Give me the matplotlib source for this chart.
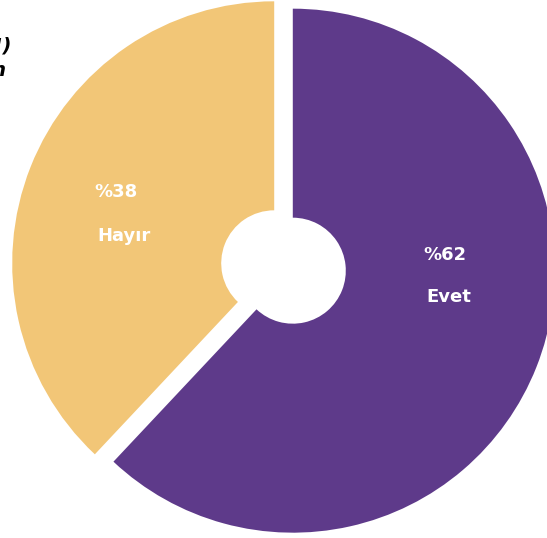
import matplotlib
matplotlib.use("Agg")
import matplotlib.pyplot as plt

categories = ["Evet", "Hayır"]
values = [62, 38]
pct_labels = ["%62", "%38"]
colors = ["#5E3A8A", "#F2C677"]

W, H = 547, 538
fig = plt.figure(figsize=(W / 100, H / 100), dpi=100)
ax = fig.add_axes([0, 0, 1, 1])

cx, cy = 283.5, H - 267
R = 262
r_in = 53
ax.pie(values, colors=colors, startangle=90, counterclock=False,
       center=(cx, cy), radius=R, explode=[10, 10],
       wedgeprops=dict(linewidth=0, width=R - r_in), frame=True)
ax.set_xlim(0, W)
ax.set_ylim(0, H)
ax.set_aspect("equal")
ax.axis("off")

fs = 13
kw = dict(color="white", fontsize=fs, fontweight="bold", ha="center", va="center",
          family="DejaVu Sans")
# Evet labels
ax.text(445, H - 255, pct_labels[0], **kw)
ax.text(449, H - 297, categories[0], **kw)
# Hayır labels
ax.text(116, H - 192, pct_labels[1], **kw)
ax.text(124, H - 236, categories[1], **kw)

# cropped title fragments (cut off at the left edge as in the reference)
ax.text(12, H - 46, "(Evet/Hayır!)", color="black", fontsize=14, fontweight="bold",
        fontstyle="italic", ha="right", va="center")
ax.text(6, H - 71, "oran", color="black", fontsize=14, fontweight="bold",
        fontstyle="italic", ha="right", va="center")

fig.savefig("out.png", dpi=100)
